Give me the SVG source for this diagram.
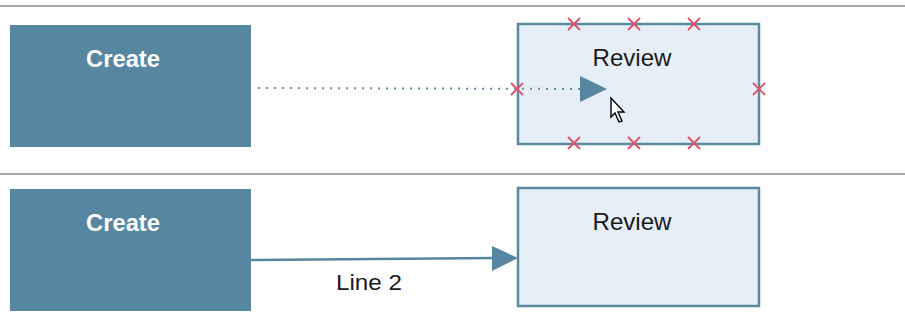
<svg xmlns="http://www.w3.org/2000/svg" width="905" height="326" viewBox="0 0 905 326">
<defs>
<style>
.sep{stroke:#a8a8a8;stroke-width:2}
.create{fill:#5686a0}
.review{fill:#e6eff7;stroke:#5b8aa0;stroke-width:2.5}
.ctext{font-family:"Liberation Sans",Arial,sans-serif;font-weight:bold;font-size:23px;fill:#ffffff;text-anchor:middle}
.rtext{font-family:"Liberation Sans",Arial,sans-serif;font-size:24px;fill:#1a1a1a;text-anchor:middle}
.ltext{font-family:"Liberation Sans",Arial,sans-serif;font-size:22px;fill:#1a1a1a;text-anchor:middle}
.x{stroke:#e0506a;stroke-width:1.8;fill:none}
.arrowhead{fill:#5686a0}
</style>
<g id="xm"><path class="x" d="M-6,-6L6,6M6,-6L-6,6"/></g>
</defs>
<line class="sep" x1="0" y1="6" x2="905" y2="6"/>
<line class="sep" x1="0" y1="174" x2="905" y2="174"/>
<g id="create1"><rect class="create" x="10" y="25" width="241" height="122"/><text class="ctext" x="123" y="67" textLength="74" lengthAdjust="spacingAndGlyphs">Create</text></g>
<g id="review1"><rect class="review" x="518" y="24" width="241" height="120"/><text class="rtext" x="632" y="66" textLength="79" lengthAdjust="spacingAndGlyphs">Review</text></g>
<g id="create2"><rect class="create" x="10" y="189" width="241" height="122"/><text class="ctext" x="123" y="231" textLength="74" lengthAdjust="spacingAndGlyphs">Create</text></g>
<g id="review2"><rect class="review" x="518" y="188" width="241" height="118"/><text class="rtext" x="632" y="230" textLength="79" lengthAdjust="spacingAndGlyphs">Review</text></g>
<g id="connectors">
<line x1="258" y1="88" x2="582" y2="89" stroke="#6b8f9e" stroke-width="2" stroke-dasharray="2,6"/>
<polygon class="arrowhead" points="580,76 607,89 580,102"/>
<line x1="251" y1="260" x2="496" y2="258" stroke="#5686a0" stroke-width="2.5"/>
<polygon class="arrowhead" points="492,246 518,258 492,271"/>
<text class="ltext" x="369" y="290" textLength="66" lengthAdjust="spacingAndGlyphs">Line 2</text>
</g>
<g id="handles">
<use href="#xm" x="574" y="24"/><use href="#xm" x="634" y="24"/><use href="#xm" x="694" y="24"/>
<use href="#xm" x="574" y="143"/><use href="#xm" x="634" y="143"/><use href="#xm" x="694" y="143"/>
<use href="#xm" x="517" y="89"/><use href="#xm" x="759" y="89"/>
</g>
<path d="M611,98 L611,117 L615,113 L619,122 L622,121 L618,112 L624,112 Z" fill="#ffffff" stroke="#000000" stroke-width="1.4" stroke-linejoin="miter"/>
</svg>
